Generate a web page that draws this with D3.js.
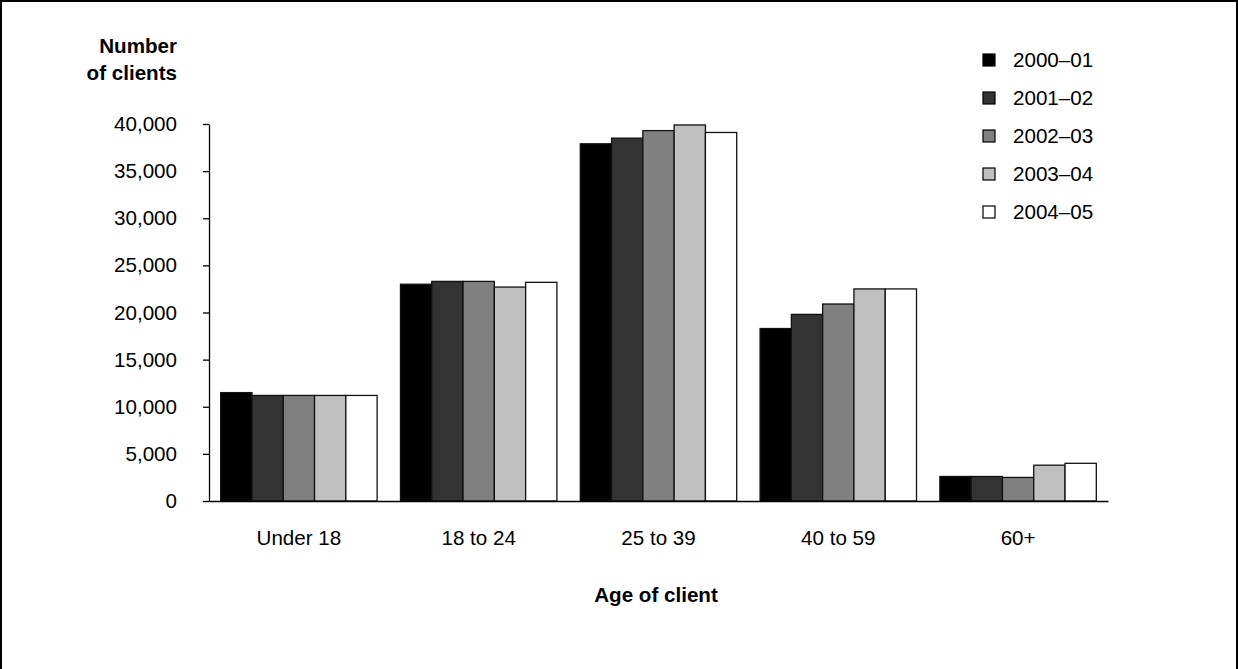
<!DOCTYPE html>
<html><head><meta charset="utf-8">
<script src="https://cdn.jsdelivr.net/npm/d3@7"></script>
<style>body{margin:0;background:#fff}svg{display:block}text{font-family:"Liberation Sans",Arial,sans-serif;fill:#000}</style>
</head><body>
<svg id="c" width="1238" height="669"></svg>
<script>
const categories = ["Under 18", "18 to 24", "25 to 39", "40 to 59", "60+"];
const series = ["2000–01", "2001–02", "2002–03", "2003–04", "2004–05"];
const values2000 = [11500, 23000, 37900, 18300, 2600];
const values2001 = [11200, 23300, 38500, 19800, 2600];
const values2002 = [11200, 23300, 39300, 20900, 2500];
const values2003 = [11200, 22700, 39900, 22500, 3800];
const values2004 = [11200, 23200, 39100, 22500, 4000];
const yTicks = [0, 5000, 10000, 15000, 20000, 25000, 30000, 35000, 40000];
const colors = ["#000000", "#333333", "#808080", "#c0c0c0", "#ffffff"];

const allValues = [values2000, values2001, values2002, values2003, values2004];
const svg = d3.select("#c");
const fs = 20.6;

// frame
svg.append("path").attr("d", "M1,669 V1 H1237 V669").attr("fill", "none").attr("stroke", "#000").attr("stroke-width", 2);

const x0 = d3.scaleBand().domain(categories).range([209, 1108]).paddingInner(0.13).paddingOuter(0.065);
const x1 = d3.scaleBand().domain(series).range([0, x0.bandwidth()]);
const y = d3.scaleLinear().domain([0, 40000]).range([501, 124]);

const g = svg.append("g");
categories.forEach((c, ci) => {
  g.selectAll(null).data(series).enter().append("rect")
    .attr("x", (s) => x0(c) + x1(s))
    .attr("y", (s, si) => y(allValues[si][ci]))
    .attr("width", x1.bandwidth())
    .attr("height", (s, si) => y(0) - y(allValues[si][ci]))
    .attr("fill", (s, si) => colors[si])
    .attr("stroke", "#111").attr("stroke-width", 1.3);
});

// y axis
const yAxis = svg.append("g").attr("transform", "translate(209,0)")
  .call(d3.axisLeft(y).tickValues(yTicks).tickSize(6).tickSizeOuter(0).tickPadding(26).tickFormat(d3.format(",")));
yAxis.selectAll("text").style("font-size", fs + "px").style("font-family", '"Liberation Sans",Arial,sans-serif').attr("fill", "#000");
yAxis.selectAll("line,path").attr("stroke", "#000").attr("stroke-width", 1.3);

// x axis
const xAxis = svg.append("g").attr("transform", "translate(0,501)")
  .call(d3.axisBottom(x0).tickSize(0).tickSizeOuter(0).tickPadding(29));
xAxis.selectAll("text").style("font-size", fs + "px").style("font-family", '"Liberation Sans",Arial,sans-serif').attr("fill", "#000");
xAxis.selectAll("path").attr("stroke", "#000").attr("stroke-width", 1.3);

// axis titles
svg.append("text").attr("x", 177).attr("y", 53).attr("text-anchor", "end").style("font-size", fs + "px").style("font-weight", "bold").text("Number");
svg.append("text").attr("x", 177).attr("y", 80).attr("text-anchor", "end").style("font-size", fs + "px").style("font-weight", "bold").text("of clients");
svg.append("text").attr("x", 656).attr("y", 602).attr("text-anchor", "middle").style("font-size", fs + "px").style("font-weight", "bold").text("Age of client");

// legend
const leg = svg.append("g");
series.forEach((s, i) => {
  const cy = 60 + i * 38;
  leg.append("rect").attr("x", 983).attr("y", cy - 6).attr("width", 12).attr("height", 12)
    .attr("fill", colors[i]).attr("stroke", "#000").attr("stroke-width", 1.2);
  leg.append("text").attr("x", 1013).attr("y", cy).attr("dy", "0.35em").style("font-size", fs + "px").text(s);
});
</script>
</body></html>
